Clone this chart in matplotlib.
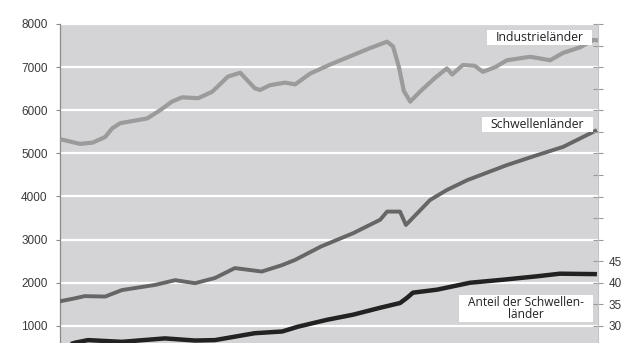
import matplotlib
matplotlib.use("Agg")
import matplotlib.pyplot as plt
from matplotlib.patches import Rectangle
from matplotlib.ticker import MultipleLocator, FuncFormatter

# ---- data (time index 0..100 across the visible span) ----
t_ind = [0, 3.7, 6.1, 8.4, 9.7, 11.2, 16.2, 18.6, 20.8, 22.7,
         25.7, 28.3, 31.2, 33.5, 36.2, 37.2, 39.0, 41.8, 43.7, 46.5,
         50.2, 53.9, 57.6, 60.8, 61.9, 63.0, 63.9, 65.1, 66.9, 69.7,
         71.9, 72.9, 74.9, 77.1, 78.6, 80.9, 83.1, 87.4, 91.1, 93.5,
         96.7, 99.1, 100]
industrielaender = [5330, 5220, 5250, 5380, 5580, 5700, 5810, 6000, 6200, 6300,
                    6280, 6430, 6780, 6870, 6510, 6470, 6580, 6640, 6600, 6850,
                    7060, 7250, 7440, 7590, 7480, 7000, 6450, 6200, 6430, 6750,
                    6970, 6830, 7050, 7030, 6890, 7000, 7160, 7240, 7160, 7330,
                    7460, 7630, 7620]

t_sch = [0, 2.8, 4.6, 8.4, 11.5, 17.7, 21.4, 25.1, 28.8, 32.5,
         37.5, 41.3, 43.7, 48.5, 54.5, 59.5, 60.8, 63.2, 64.3, 68.8,
         71.9, 75.7, 83.1, 88.7, 93.5, 99.8]
schwellenlaender = [1570, 1640, 1690, 1680, 1830, 1950, 2060, 1990, 2110, 2340,
                    2260, 2410, 2530, 2840, 3150, 3460, 3650, 3650, 3340, 3920,
                    4150, 4380, 4730, 4960, 5150, 5540]

t_ant = [0, 2.8, 5.2, 11.5, 19.5, 25.1, 28.8, 36.2, 41.3, 44.2, 49.6,
         54.5, 59.5, 63.2, 64.5, 65.6, 70.1, 76.2, 82.3, 88.7, 92.9, 99.8]
anteil = [25.0, 26.1, 26.7, 26.3, 27.1, 26.6, 26.7, 28.3, 28.7, 29.8, 31.4,
          32.6, 34.2, 35.3, 36.5, 37.7, 38.4, 40.0, 40.7, 41.5, 42.1, 42.0]

left_ticks = list(range(1000, 8001, 1000))
right_labels_max = 45

# ---- figure ----
W, H = 633, 343
fig = plt.figure(figsize=(W / 100, H / 100), dpi=100)
fig.patch.set_facecolor("white")

x0, x1 = 60, 598
ytop, ybot = 24, 369
ax = fig.add_axes([x0 / W, (H - ybot) / H, (x1 - x0) / W, (ybot - ytop) / H])
ax.set_facecolor("#d4d4d6")
ax.set_xlim(0, 100)
ax.set_ylim(0, 8000)
ax.set_yticks(left_ticks)
ax.set_xticks([])
ax.grid(axis="y", color="white", linewidth=1.6)
ax.set_axisbelow(True)
for s in ["top", "bottom", "right"]:
    ax.spines[s].set_visible(False)
ax.spines["left"].set_color("#8a8a8a")
ax.spines["left"].set_linewidth(0.9)
ax.tick_params(axis="y", length=3, width=0.8, color="#8a8a8a",
               labelsize=8.5, labelcolor="#3a3a3a", pad=6)
for lab in ax.get_yticklabels():
    lab.set_fontfamily("Liberation Sans")

ax.plot(t_ind, industrielaender, color="#9b9b9b", linewidth=3.0,
        solid_capstyle="butt", solid_joinstyle="round", zorder=3)
ax.plot(t_sch, schwellenlaender, color="#666666", linewidth=2.8,
        solid_capstyle="butt", solid_joinstyle="round", zorder=3)

ax2 = ax.twinx()
ax2.set_ylim(20, 100)
ax2.yaxis.set_major_locator(MultipleLocator(5))
ax2.yaxis.set_major_formatter(FuncFormatter(
    lambda v, p: f"{int(round(v))}" if 27 < v <= right_labels_max + 0.1 else ""))
for s in ["top", "bottom", "left"]:
    ax2.spines[s].set_visible(False)
ax2.spines["right"].set_color("#c4c4c4")
ax2.spines["right"].set_linewidth(0.8)
ax2.tick_params(axis="y", direction="inout", length=7, width=0.8,
                color="#9a9a9a", labelsize=8.5, labelcolor="#3a3a3a", pad=4)
for lab in ax2.get_yticklabels():
    lab.set_fontfamily("Liberation Sans")
ax2.plot(t_ant, anteil, color="#222222", linewidth=3.2,
         solid_capstyle="butt", solid_joinstyle="round", zorder=3)

# ---- labels in white boxes ----
def label(xl, xr, yt, yb, text, size):
    fig.patches.append(Rectangle((xl / W, 1 - yb / H), (xr - xl) / W, (yb - yt) / H,
                                 transform=fig.transFigure, facecolor="white",
                                 edgecolor="none", zorder=10))
    fig.text((xl + xr) / 2 / W, 1 - (yt + yb) / 2 / H, text, ha="center", va="center",
             fontsize=size, family="Open Sans", color="#222222", zorder=11,
             linespacing=0.9)

label(487, 592, 30, 45, "Industrieländer", 8.8)
label(482, 593, 117, 132, "Schwellenländer", 8.8)
label(459, 593, 295, 322, "Anteil der Schwellen-\nländer", 8.6)

fig.savefig("out.png", dpi=100)
